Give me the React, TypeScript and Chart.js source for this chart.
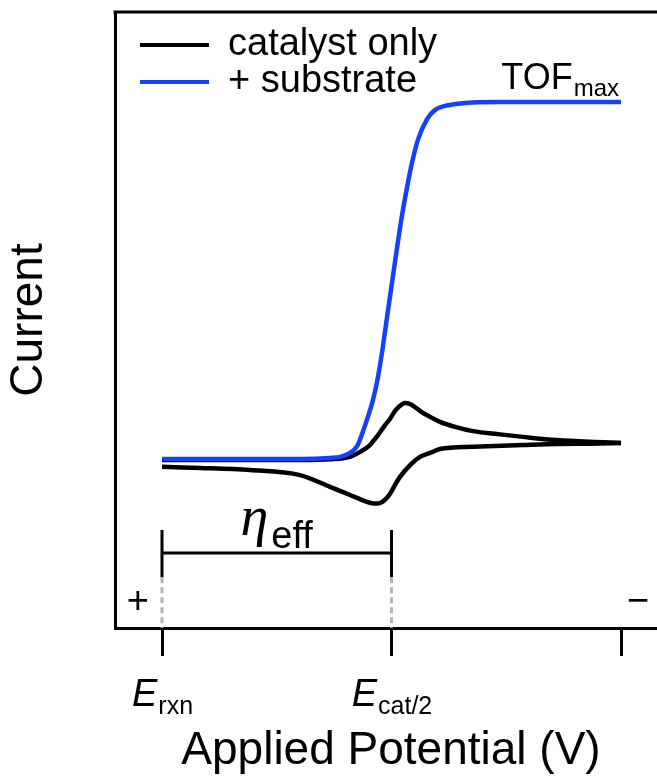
import React, { useEffect, useRef } from 'react';
import { Chart, registerables } from 'chart.js';

Chart.register(...registerables);

// ---------- data (potential in units of the tick spacing, current in % of TOFmax plateau) ----------
const TICK_VALUES = [0, 1, 2];
const TICK_MAIN = ['E', 'E', ''];
const TICK_SUB = ['rxn', 'cat/2', ''];

const POTENTIAL_SUBSTRATE = [0, 0.383, 0.601, 0.732, 0.776, 0.819, 0.85, 0.876, 0.898, 0.919, 0.937, 0.959, 0.98, 1.002, 1.024, 1.046, 1.068, 1.089, 1.115, 1.155, 1.19, 1.234, 1.299, 1.473, 1.734, 2.0];
const CURRENT_SUBSTRATE = [0, 0, 0, 0.3, 0.6, 1.7, 3.6, 7.8, 12.0, 16.5, 21.6, 30.0, 39.5, 49.3, 59.1, 68.3, 76.2, 82.9, 89.4, 95.2, 97.8, 98.9, 99.6, 100, 100, 100];

const POTENTIAL_CAT_UPPER = [0, 0.601, 0.732, 0.819, 0.863, 0.906, 0.941, 0.972, 0.993, 1.015, 1.037, 1.059, 1.081, 1.107, 1.137, 1.168, 1.211, 1.277, 1.355, 1.473, 1.573, 1.721, 1.865, 2.0];
const CURRENT_CAT_UPPER = [-0.3, -0.3, -0.1, 0.6, 2.0, 3.9, 6.7, 9.5, 11.2, 13.4, 14.9, 15.7, 15.4, 14.3, 12.9, 11.8, 10.4, 9.0, 7.8, 6.9, 6.2, 5.3, 4.8, 4.5];

const POTENTIAL_CAT_LOWER = [0, 0.166, 0.383, 0.601, 0.732, 0.797, 0.85, 0.893, 0.915, 0.935, 0.955, 0.972, 0.993, 1.015, 1.037, 1.081, 1.124, 1.168, 1.211, 1.355, 1.573, 1.721, 1.865, 2.0];
const CURRENT_CAT_LOWER = [-2.2, -2.5, -3.1, -4.5, -7.8, -9.5, -10.9, -12.0, -12.4, -12.5, -12.2, -11.4, -9.8, -7.3, -5.0, -1.7, 0.6, 1.7, 2.8, 3.4, 3.9, 4.2, 4.3, 4.5];

const LABEL_CATALYST = 'catalyst only';
const LABEL_SUBSTRATE = '+ substrate';

// axis ranges
const X_MIN = -0.2048;
const X_MAX = 2.2004;
const Y_MIN = -47.34;
const Y_MAX = 125.21;

// annotation anchors (data units)
const TOF_LEVEL = 100;
const ETA_Y = -26.3;
const ETA_TOP = -19.9;
const ETA_BOTTOM = -33.1;
const PLUS_X = -0.105;
const MINUS_X = 2.074;
const SIGN_Y = -40.1;

const SANS = '"Liberation Sans", Arial, Helvetica, sans-serif';
const SERIF = '"Liberation Serif", "Times New Roman", serif';
const BLUE = '#1440ff';
const BLACK = '#000000';

const toPts = (xs: number[], ys: number[]) => xs.map((x, i) => ({ x, y: ys[i] }));

const overlayPlugin = {
  id: 'overlay',
  afterDraw(chart: any) {
    const { ctx, chartArea, scales } = chart;
    const x = scales.x;
    const y = scales.y;
    ctx.save();

    // top frame line
    ctx.strokeStyle = BLACK;
    ctx.lineWidth = 3;
    ctx.beginPath();
    ctx.moveTo(chartArea.left - 1.5, chartArea.top);
    ctx.lineTo(chartArea.right, chartArea.top);
    ctx.stroke();

    // legend
    const legendItems = [
      { label: LABEL_CATALYST, color: BLACK },
      { label: LABEL_SUBSTRATE, color: BLUE },
    ];
    const legRows = [45, 82];
    legendItems.forEach((it, i) => {
      const ly = legRows[i];
      ctx.strokeStyle = it.color;
      ctx.lineWidth = 4;
      ctx.beginPath();
      ctx.moveTo(140, ly);
      ctx.lineTo(209, ly);
      ctx.stroke();
      ctx.fillStyle = BLACK;
      ctx.font = `38px ${SANS}`;
      ctx.textAlign = 'left';
      ctx.textBaseline = 'alphabetic';
      ctx.fillText(it.label, 228, ly + 10);
    });

    // TOF_max label
    const plateauY = y.getPixelForValue(TOF_LEVEL);
    const tofRight = x.getPixelForValue(2) - 2;
    ctx.font = `24px ${SANS}`;
    const wMax = ctx.measureText('max').width;
    ctx.font = `36px ${SANS}`;
    const wTof = ctx.measureText('TOF').width;
    ctx.textAlign = 'left';
    ctx.fillText('TOF', tofRight - wMax - wTof - 1, plateauY - 13);
    ctx.font = `24px ${SANS}`;
    ctx.fillText('max', tofRight - wMax, plateauY - 6);

    // tick labels with subscripts
    const baseMain = chartArea.bottom + 78;
    TICK_VALUES.forEach((v, i) => {
      if (!TICK_MAIN[i]) return;
      const px = x.getPixelForValue(v);
      ctx.font = `italic 38px ${SANS}`;
      const wm = ctx.measureText(TICK_MAIN[i]).width;
      ctx.font = `25px ${SANS}`;
      const ws = ctx.measureText(TICK_SUB[i]).width;
      const start = px - (wm + ws) / 2;
      ctx.font = `italic 38px ${SANS}`;
      ctx.fillText(TICK_MAIN[i], start, baseMain);
      ctx.font = `25px ${SANS}`;
      ctx.fillText(TICK_SUB[i], start + wm + 1, baseMain + 8);
    });

    // eta_eff bracket
    const x0 = x.getPixelForValue(TICK_VALUES[0]);
    const x1 = x.getPixelForValue(TICK_VALUES[1]);
    const by = y.getPixelForValue(ETA_Y);
    const bt = y.getPixelForValue(ETA_TOP);
    const bb = y.getPixelForValue(ETA_BOTTOM);
    ctx.strokeStyle = BLACK;
    ctx.lineWidth = 3;
    ctx.beginPath();
    ctx.moveTo(x0, by);
    ctx.lineTo(x1, by);
    ctx.moveTo(x0, bt);
    ctx.lineTo(x0, bb);
    ctx.moveTo(x1, bt);
    ctx.lineTo(x1, bb);
    ctx.stroke();
    // dashed guides to axis
    ctx.strokeStyle = '#b4b4b4';
    ctx.setLineDash([6, 4]);
    ctx.beginPath();
    ctx.moveTo(x0, bb);
    ctx.lineTo(x0, chartArea.bottom);
    ctx.moveTo(x1, bb);
    ctx.lineTo(x1, chartArea.bottom);
    ctx.stroke();
    ctx.setLineDash([]);
    // eta_eff text
    ctx.font = `italic 56px ${SERIF}`;
    const wEta = ctx.measureText('\u03B7').width;
    ctx.font = `38px ${SANS}`;
    const wEff = ctx.measureText('eff').width;
    const cx = (x0 + x1) / 2;
    const ts = cx - (wEta + wEff + 3) / 2;
    ctx.fillStyle = BLACK;
    ctx.font = `italic 56px ${SERIF}`;
    ctx.fillText('\u03B7', ts, by - 18);
    ctx.font = `38px ${SANS}`;
    ctx.fillText('eff', ts + wEta + 3, by - 5);

    // + and − signs
    ctx.font = `38px ${SANS}`;
    ctx.textAlign = 'center';
    ctx.textBaseline = 'middle';
    const sy = y.getPixelForValue(SIGN_Y);
    ctx.fillText('+', x.getPixelForValue(PLUS_X), sy);
    ctx.fillText('\u2212', x.getPixelForValue(MINUS_X), sy);

    ctx.restore();
  },
};

export default function App() {
  const ref = useRef<HTMLCanvasElement>(null);

  useEffect(() => {
    if (!ref.current) return;
    const chart = new Chart(ref.current, {
      type: 'line',
      data: {
        datasets: [
          {
            label: LABEL_SUBSTRATE,
            data: toPts(POTENTIAL_SUBSTRATE, CURRENT_SUBSTRATE),
            borderColor: BLUE,
            borderWidth: 4.5,
            pointRadius: 0,
            cubicInterpolationMode: 'monotone',
            fill: false,
            order: 0,
          },
          {
            label: LABEL_CATALYST,
            data: toPts(POTENTIAL_CAT_UPPER, CURRENT_CAT_UPPER),
            borderColor: BLACK,
            borderWidth: 4.5,
            pointRadius: 0,
            cubicInterpolationMode: 'monotone',
            fill: false,
            order: 1,
          },
          {
            label: LABEL_CATALYST,
            data: toPts(POTENTIAL_CAT_LOWER, CURRENT_CAT_LOWER),
            borderColor: BLACK,
            borderWidth: 4.5,
            pointRadius: 0,
            cubicInterpolationMode: 'monotone',
            fill: false,
            order: 1,
          },
        ],
      },
      options: {
        responsive: false,
        animation: false,
        devicePixelRatio: 1,
        layout: { padding: { top: 12, left: 0, right: 0, bottom: 0 } },
        plugins: {
          legend: { display: false },
          tooltip: { enabled: false },
        },
        scales: {
          x: {
            type: 'linear',
            min: X_MIN,
            max: X_MAX,
            afterBuildTicks: (s: any) => {
              s.ticks = TICK_VALUES.map((v) => ({ value: v }));
            },
            afterFit: (s: any) => {
              s.height = 151;
            },
            grid: {
              display: true,
              drawOnChartArea: false,
              drawTicks: true,
              tickLength: 28,
              lineWidth: 3,
              color: BLACK,
            },
            border: { display: true, width: 3, color: BLACK },
            ticks: { display: false },
            title: {
              display: true,
              text: 'Applied Potential (V)',
              color: BLACK,
              font: { family: SANS, size: 46 },
              padding: { top: 0, bottom: 0 },
            },
          },
          y: {
            type: 'linear',
            min: Y_MIN,
            max: Y_MAX,
            afterFit: (s: any) => {
              s.width = 115;
            },
            grid: { display: false },
            border: { display: true, width: 3, color: BLACK },
            ticks: { display: false },
            title: {
              display: true,
              text: 'Current',
              color: BLACK,
              font: { family: SANS, size: 46 },
              padding: { top: 2, bottom: 0 },
            },
          },
        },
      },
      plugins: [overlayPlugin],
    });
    return () => chart.destroy();
  }, []);

  return (
    <div
      style={{
        position: 'absolute',
        left: 0,
        top: 0,
        width: 657,
        height: 779,
        overflow: 'hidden',
        background: '#ffffff',
      }}
    >
      <canvas ref={ref} width={667} height={779} style={{ display: 'block', width: 667, height: 779 }} />
    </div>
  );
}
